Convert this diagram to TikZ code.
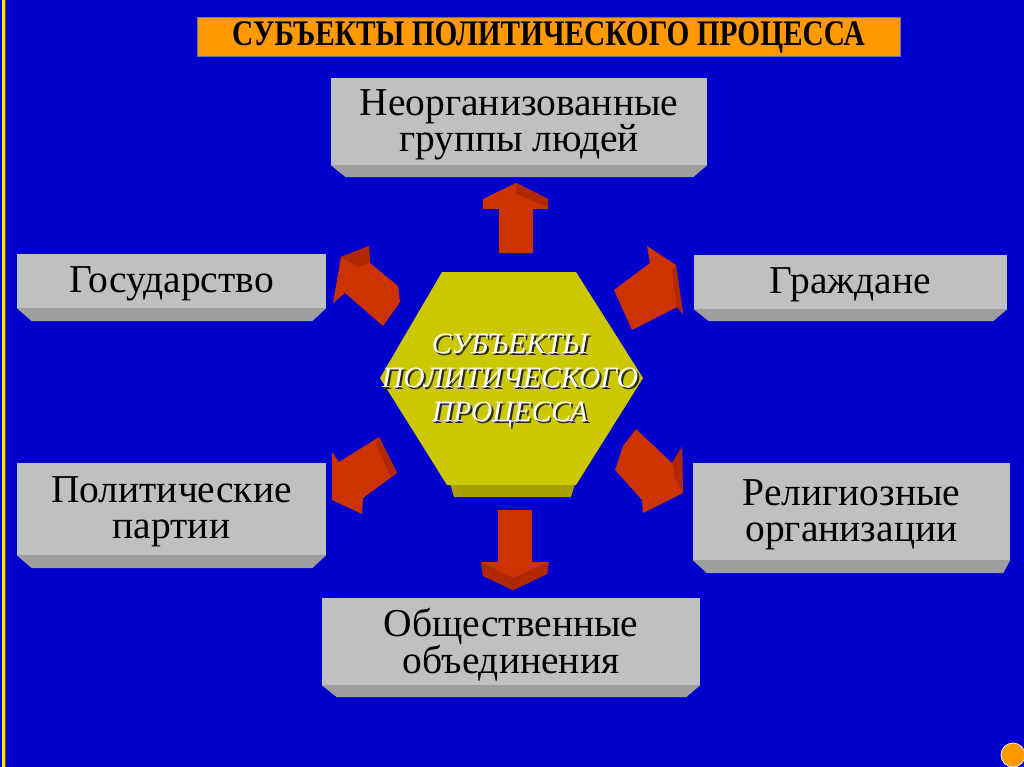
\documentclass[tikz,border=0pt]{standalone}
\usepackage{fontspec}
\setmainfont{Liberation Serif}
\usetikzlibrary{calc}
\definecolor{bg}{RGB}{0,0,204}
\definecolor{boxface}{RGB}{192,192,192}
\definecolor{boxbevel}{RGB}{158,158,158}
\definecolor{titleorange}{RGB}{255,153,0}
\definecolor{titleborder}{RGB}{110,110,170}
\definecolor{hexface}{RGB}{204,200,0}
\definecolor{hexbevel}{RGB}{165,160,0}
\definecolor{arrowface}{RGB}{204,51,0}
\definecolor{arrowdark}{RGB}{175,40,0}
\definecolor{stripe}{RGB}{255,230,0}
\begin{document}
\begin{tikzpicture}[x=1pt,y=-1pt,
  box/.style={fill=boxface, inner sep=0pt},
  boxlabel/.style={align=center, inner sep=0pt, text=black,
    font=\fontsize{39.5}{36}\selectfont},
  bevel/.style={fill=boxbevel},
  arr/.style={fill=arrowface},
  arrdark/.style={fill=arrowdark},
  hextext/.style={align=center, inner sep=0pt, font=\fontsize{29.5}{34}\selectfont\itshape}]
\fill[bg] (0,0) rectangle (1024,767);
\useasboundingbox (0,0) rectangle (1024,767);
% left stripe
\fill[black!70] (1.5,0) rectangle (5.5,767);
\fill[stripe] (2.3,0) rectangle (4.7,767);
% corner mark
\node[circle, fill=titleorange, draw=white!85!orange, line width=0.8pt, minimum size=24pt, inner sep=0pt] (mark) at (1013,755) {};

% title
\node[fill=titleorange, draw=titleborder, line width=1pt, minimum width=703pt, minimum height=39pt, inner sep=0pt] (title) at (548.5,37.5)
  {\raisebox{-1pt}{\fontsize{36}{36}\selectfont\bfseries\scalebox{0.815}[1]{СУБЪЕКТЫ ПОЛИТИЧЕСКОГО ПРОЦЕССА}}};

% boxes
\node[box, minimum width=376pt, minimum height=87pt] (neorg) at (519,121.5) {};
\node[boxlabel] (neorgtxt) at ($(neorg)+(0,3)$) {Неорганизованные\\группы людей};
\fill[bevel] (neorg.south west) -- (neorg.south east) -- ++(-14,12) -- ($(neorg.south west)+(15,12)$) -- cycle;

\node[box, minimum width=309pt, minimum height=54pt] (gos) at (171.5,281) {};
\node[boxlabel] (gostxt) at ($(gos)+(0,3)$) {Государство};
\fill[bevel] (gos.south west) -- (gos.south east) -- ++(-14,13) -- ($(gos.south west)+(15,13)$) -- cycle;

\node[box, minimum width=313pt, minimum height=54pt] (grazh) at (850.5,282) {};
\node[boxlabel] (grazhtxt) at ($(grazh)+(0,3)$) {Граждане};
\fill[bevel] (grazh.south west) -- (grazh.south east) -- ++(-14,12) -- ($(grazh.south west)+(15,12)$) -- cycle;

\node[box, minimum width=309pt, minimum height=92pt] (part) at (171.5,509) {};
\node[boxlabel] (parttxt) at ($(part)+(0,3)$) {Политические\\партии};
\fill[bevel] (part.south west) -- (part.south east) -- ++(-14,13) -- ($(part.south west)+(15,13)$) -- cycle;

\node[box, minimum width=317pt, minimum height=97pt] (relig) at (851.5,511.5) {};
\node[boxlabel] (religtxt) at ($(relig)+(0,3)$) {Религиозные\\организации};
\fill[bevel] (relig.south west) -- (relig.south east) -- ++(-7,13) -- ($(relig.south west)+(14,13)$) -- cycle;

\node[box, minimum width=378pt, minimum height=87pt] (obsh) at (511,641.5) {};
\node[boxlabel] (obshtxt) at ($(obsh)+(0,3)$) {Общественные\\объединения};
\fill[bevel] (obsh.south west) -- (obsh.south east) -- ++(-14,12) -- ($(obsh.south west)+(15,12)$) -- cycle;

% hexagon
\fill[hexbevel] (449,480) -- (576,480) -- (571,497) -- (454,497) -- cycle;
\fill[hexface] (442,272) -- (576,272) -- (643,378) -- (576,485) -- (447,485) -- (380,378) -- cycle;
\coordinate (hexc) at (510,381);
\node[hextext, text=black!85] (hexshadow) at ($(hexc)+(2,2)$) {СУБЪЕКТЫ\\ПОЛИТИЧЕСКОГО\\ПРОЦЕССА};
\node[hextext, text=white] (hexlabel) at (hexc) {СУБЪЕКТЫ\\ПОЛИТИЧЕСКОГО\\ПРОЦЕССА};

% arrows: up
\fill[arr] (516,183) -- (548,199) -- (548,209) -- (533,209) -- (533,253) -- (499,253) -- (499,209) -- (483,209) -- (483,199) -- cycle;
\fill[arrdark] (516,183) -- (548,199) -- (548,207) -- (516,194) -- cycle;
% down
\fill[arr] (498,510) -- (532,510) -- (532,562) -- (549,562) -- (547,574) -- (513,590) -- (483,576) -- (481,562) -- (498,562) -- cycle;
\fill[arrdark] (481,562) -- (513,578) -- (549,562) -- (547,574) -- (513,590) -- (483,576) -- cycle;
% upper left
\fill[arr] (333,303) -- (341,257) -- (369,246) -- (370,263) -- (398,286) -- (400,302) -- (383,326) -- (345,293) -- cycle;
\fill[arrdark] (341,257) -- (369,246) -- (370,263) -- (358,267) -- cycle;
% upper right
\fill[arr] (647,246) -- (676,265) -- (683,314) -- (677,307) -- (632,330) -- (614,290) -- (650,263) -- cycle;
\fill[arrdark] (676,265) -- (683,314) -- (677,307) -- (672,270) -- cycle;
% lower left
\fill[arr] (332,452) -- (339,462) -- (379,437) -- (397,473) -- (363,498) -- (362,514) -- (332,500) -- cycle;
\fill[arrdark] (379,437) -- (397,473) -- (391,476) -- (376,445) -- cycle;
% lower right
\fill[arr] (636,429) -- (672,463) -- (682,447) -- (683,493) -- (643,513) -- (642,500) -- (615,470) -- (623,446) -- cycle;
\fill[arrdark] (672,463) -- (682,447) -- (683,493) -- (676,480) -- cycle;
\end{tikzpicture}
\end{document}
